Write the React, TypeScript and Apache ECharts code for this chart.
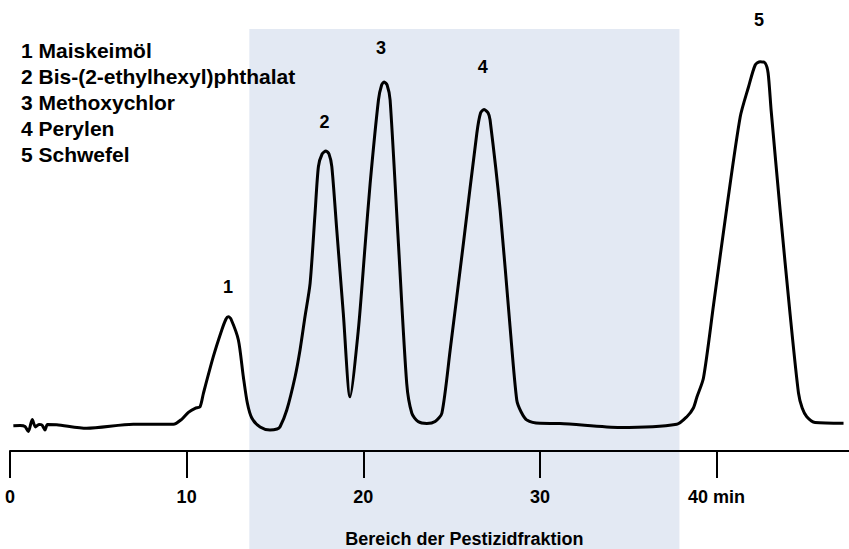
import React, { useEffect, useRef } from "react";
import * as echarts from "echarts";

// Retention time (min) and detector signal (arbitrary units) of the chromatogram
const times: number[] = [
  0.19, 0.57, 0.85, 1.04, 1.26, 1.44, 1.64, 1.81, 1.98, 2.12, 2.64, 4.34, 6.98, 9.25, 9.72, 10.1, 10.48, 10.76,
  10.95, 11.51, 11.99, 12.23, 12.36, 12.51, 12.93, 13.21, 13.44, 13.69, 14.16, 14.72, 15.12, 15.29, 15.67, 16.14,
  16.42, 16.7, 16.99, 17.27, 17.46, 17.67, 17.89, 18.06, 18.22, 18.5, 18.87, 19.25, 19.72, 20.1, 20.39, 20.86,
  21.04, 21.18, 21.35, 21.52, 21.99, 22.46, 22.75, 23.1, 23.6, 24.07, 24.45, 24.92, 25.67, 26.43, 26.64, 26.84,
  27.07, 27.18, 27.75, 28.31, 28.69, 28.94, 29.26, 30.01, 31.14, 34.54, 37.75, 38.32, 38.69, 38.89, 39.26, 39.83,
  40.58, 41.34, 41.81, 42.19, 42.47, 42.75, 42.92, 43.09, 43.6, 44.17, 44.64, 44.85, 45.11, 45.58, 47.19,
];
const signal: number[] = [
  25.3, 25.5, 24.5, 19.5, 31.5, 24, 26.5, 26, 21, 26.5, 26.3, 22.7, 26.7, 26.7, 31.7, 38.7, 42.7, 44.3,
  57.7, 94.3, 121, 132, 134.3, 132, 111, 74.3, 47.7, 33, 24, 21, 22, 24.3, 41, 74.3,
  101, 134.3, 167.7, 237.7, 284.3, 297, 300, 297, 284.3, 221, 137.7, 54.3, 121, 204.3, 267.7, 351,
  366, 369, 366, 351, 207.7, 67.7, 37.7, 29.5, 27.5, 29.5, 37.7, 101, 207.7, 317.7, 338, 341.5,
  338, 331, 241, 124.3, 51, 39, 31, 27.7, 27.5, 23.5, 26.7, 34.3, 43, 54, 73, 146,
  243, 334, 364, 386, 389.3, 388, 378, 341, 241, 136, 58, 43, 34.3, 28.5, 27.7,
];

// Peak numbers and where their labels sit
const peakNames: string[] = ["1", "2", "3", "4", "5"];
const peakLabelTimes: number[] = [12.34, 17.8, 21.01, 26.77, 42.41];
const peakLabelValues: number[] = [164, 329.3, 402.7, 384.3, 431];

// Legend lines
const legendLines: string[] = [
  "1 Maiskeimöl",
  "2 Bis-(2-ethylhexyl)phthalat",
  "3 Methoxychlor",
  "4 Perylen",
  "5 Schwefel",
];

// Pesticide fraction window (min)
const fractionStart = 13.55;
const fractionEnd = 37.9;
const fractionLabel = "Bereich der Pestizidfraktion";

// Axis ticks
const tickValues: number[] = [0, 10, 20, 30, 40];
const tickUnit = "min";

const FONT = "'Liberation Sans', Arial, Helvetica, sans-serif";

export default function App() {
  const ref = useRef<HTMLDivElement>(null);

  useEffect(() => {
    if (!ref.current) return;
    const chart = echarts.init(ref.current, null, { renderer: "svg" });
    const lineData = times.map((t, i) => [t, signal[i]]);
    const labelData = peakNames.map((n, i) => ({ name: n, value: [peakLabelTimes[i], peakLabelValues[i]] }));
    const lastTick = tickValues[tickValues.length - 1];

    chart.setOption({
      animation: false,
      backgroundColor: "#ffffff",
      title: {
        text: legendLines.join("\n"),
        left: 21,
        top: 37,
        padding: 0,
        textStyle: {
          fontFamily: FONT,
          fontWeight: "bold",
          fontSize: 21,
          lineHeight: 26,
          color: "#000",
        },
      },
      grid: { left: 10, right: 0, top: 0, bottom: 0, containLabel: false, outerBoundsMode: "none" },
      xAxis: {
        type: "value",
        min: 0,
        max: 47.5,
        interval: 10,
        z: 10,
        position: "bottom",
        offset: -98,
        axisLine: { show: true, onZero: false, lineStyle: { color: "#000", width: 2 } },
        axisTick: {
          show: true,
          length: 27,
          lineStyle: { color: "#000", width: 2 },
          customValues: tickValues,
        },
        axisLabel: {
          show: true,
          margin: 37,
          customValues: tickValues,
          fontFamily: FONT,
          fontWeight: "bold",
          fontSize: 18,
          color: "#000",
          formatter: (v: number) => (v === lastTick ? `${v} ${tickUnit}` : String(v)),
        },
        splitLine: { show: false },
      },
      yAxis: {
        type: "value",
        min: -98,
        max: 451,
        show: false,
        splitLine: { show: false },
      },
      series: [
        {
          type: "line",
          data: lineData,
          symbol: "none",
          smooth: 0.25,
          z: 5,
          lineStyle: { color: "#000", width: 3 },
          markArea: {
            silent: true,
            itemStyle: { color: "#e3e9f3" },
            label: {
              show: true,
              position: "insideBottom",
              distance: 1,
              fontFamily: FONT,
              fontWeight: "bold",
              fontSize: 18,
              color: "#000",
            },
            data: [[{ name: fractionLabel, xAxis: fractionStart, yAxis: -98 }, { xAxis: fractionEnd, yAxis: 422 }]],
          },
        },
        {
          type: "scatter",
          data: labelData,
          symbolSize: 1,
          silent: true,
          itemStyle: { color: "#000", opacity: 0 },
          z: 6,
          label: {
            show: true,
            position: "inside",
            opacity: 1,
            textBorderWidth: 0,
            formatter: (p: any) => p.name,
            fontFamily: FONT,
            fontWeight: "bold",
            fontSize: 18,
            color: "#000",
          },
        },
      ],
    });

    return () => chart.dispose();
  }, []);

  return (
    <div
      ref={ref}
      style={{ position: "absolute", left: 0, top: 0, width: 849, height: 549, background: "#fff" }}
    />
  );
}
